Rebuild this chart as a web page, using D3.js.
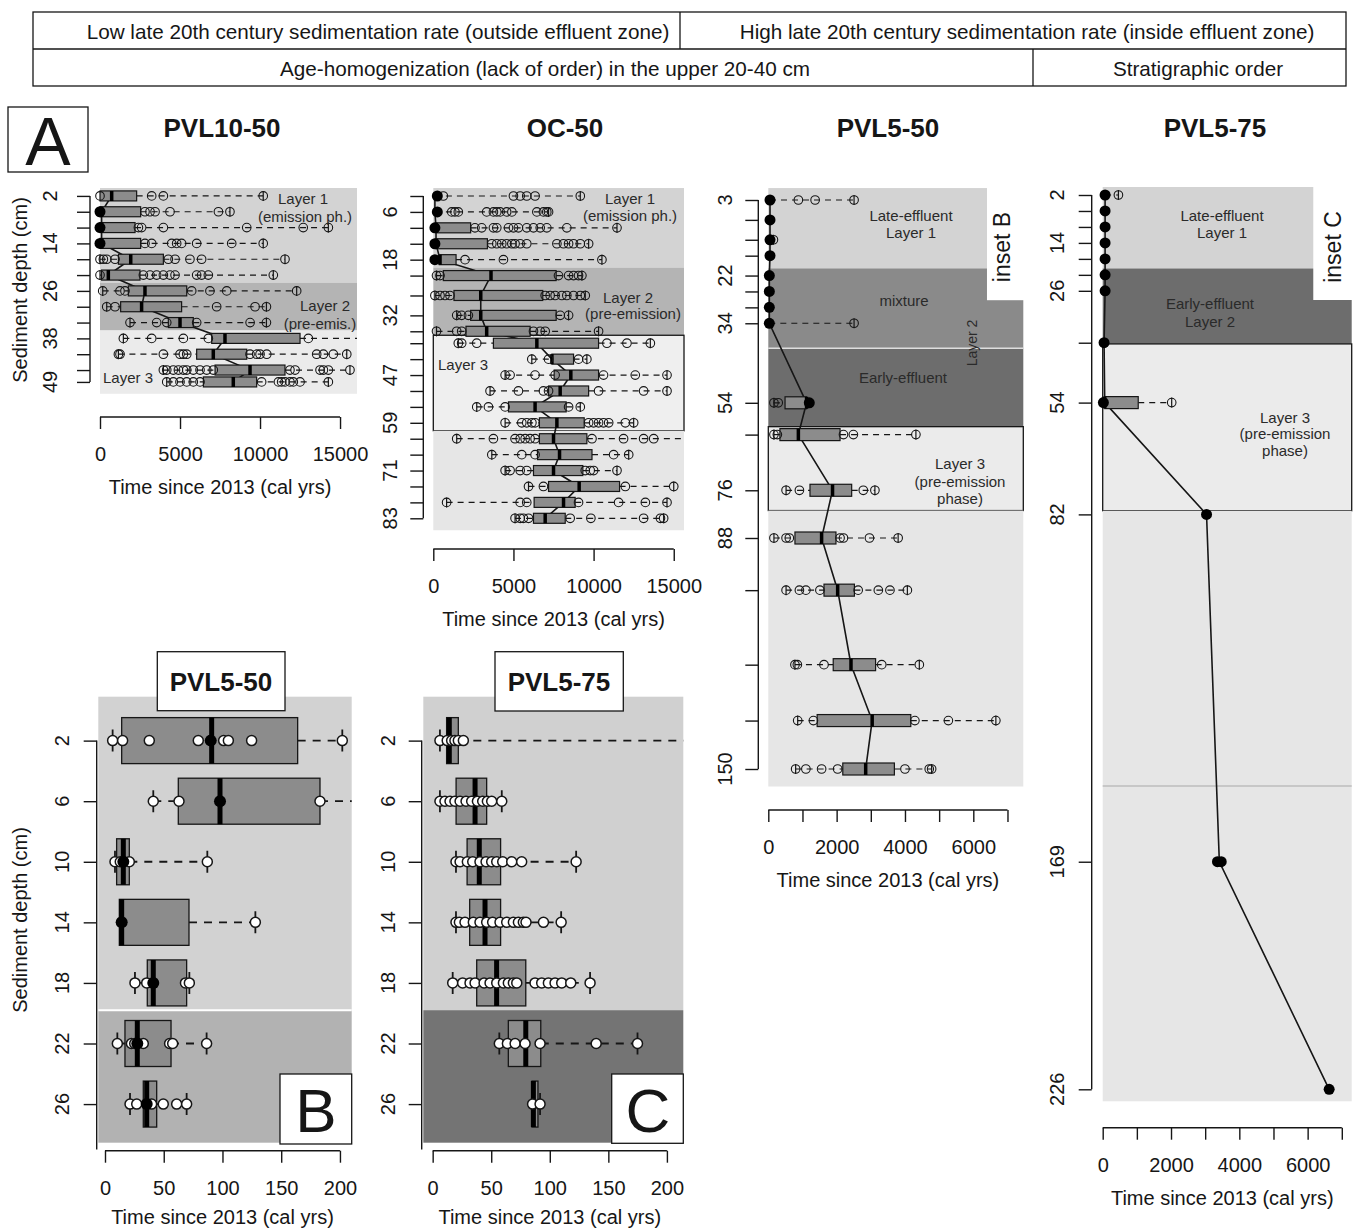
<!DOCTYPE html>
<html><head><meta charset="utf-8">
<script src="https://cdn.jsdelivr.net/npm/d3@7"></script>
<style>body{margin:0;background:#fff} svg{display:block}</style>
</head><body>
<script>
// ---------------- DATA ----------------
const headerRow1 = ["Low late 20th century sedimentation rate (outside effluent zone)", "High late 20th century sedimentation rate (inside effluent zone)"];
const headerRow2 = ["Age-homogenization (lack of order) in the upper 20-40 cm", "Stratigraphic order"];
const panelTitles = ["PVL10-50", "OC-50", "PVL5-50", "PVL5-75"];
const insetTitles = ["PVL5-50", "PVL5-75"];

const bigXTicks = [0, 5000, 10000, 15000];
const midXTicks = [0, 1000, 2000, 3000, 4000, 5000, 6000, 7000];
const midXLabels = [0, 2000, 4000, 6000];
const insetXTicks = [0, 50, 100, 150, 200];

// PVL10-50
const pvl10Depths = [2,6,10,14,18,22,26,30,34,38,42,46,49];
const pvl10YLabels = [2,14,26,38,49];
const pvl10Q1  = [0,0,0,0,1150,100,1770,1290,4270,6980,6040,7190,6460];
const pvl10Med = [730,100,100,100,1920,520,2810,2600,5000,7810,7080,9375,8330];
const pvl10Q3  = [2290,2540,2190,2540,3960,2500,5420,5100,5830,12500,9170,11560,9790];
const pvl10Points = [
 [0,3230,3960,10200],
 [2810,3125,3440,4375,7400,8120],
 [2400,2600,3960,9170,12700,14270],
 [2810,3230,4480,4790,5100,6040,8230,10200],
 [0,210,420,940,4270,4690,5620,6350,11560],
 [0,2710,3125,3540,3960,4375,4690,6040,6350,6770,10830],
 [170,1250,1560,5730,6870,7920,12290],
 [420,940,7290,9690,10400],
 [1875,3540,4170,6040,9380,10400],
 [1460,3230,5210,6770,13020,16600],
 [1150,1250,3960,5000,5210,5420,9375,9790,10000,10420,13540,13960,14580,15420],
 [3960,4170,4580,4900,5210,5420,5830,6250,6670,7080,11870,12190,13750,13960,14270,15620],
 [4170,4580,5000,5420,5830,6250,10100,11150,11350,11560,11870,12080,12500,14270]
];
const pvl10Solid = [[],[0],[0],[0],[],[],[],[],[],[],[],[],[]];
const pvl10LayerTops = [0,24,36];
const pvl10LayerBottoms = [24,36,52];

// OC-50
const ocDepths = [2,6,10,14,18,22,27,32,36,39,43,47,51,55,59,63,67,71,75,79,83];
const ocYLabels = [6,18,32,47,59,71,83];
const ocQ1  = [100,100,170,170,375,625,1290,2330,2040,3750,7400,7540,7190,4690,6620,6620,6500,6250,7190,6290,6250];
const ocMed = [100,100,170,170,420,3600,2960,2960,3330,6460,7400,8580,7915,6350,7710,7500,7875,7500,9100,8125,6980];
const ocQ3  = [100,100,2330,3375,1420,7665,6830,7665,6040,10310,8750,10310,9690,8290,9415,9580,9900,9330,11620,8850,8230];
const ocPoints = [
 [625,5000,5420,5830,6350,9170],
 [1150,1350,1560,3330,3750,3960,4170,4580,4900,6460,6870,7080,7190],
 [2600,3020,3750,3960,4690,5000,5310,5830,6250,6670,7080,8330,11460],
 [3650,3960,4270,4580,4900,5100,5420,5830,7710,8120,8440,8750,9170,9690],
 [1980,4375,10520],
 [200,420,7810,8440,8750,9060,9270],
 [100,420,730,1040,6980,7290,7600,8020,8330,8750,9170,9480],
 [1460,1770,2190,7920,8440],
 [200,1460,1770,6250,6670,6980,10310],
 [1560,1770,2710,10830,12080,13540],
 [6145,7190,9060,9580],
 [4480,4790,6350,7600,10620,12600,14580],
 [3540,5310,6870,7190,10310,13120,14580],
 [2710,3440,4480,8440,9170],
 [4480,5520,5830,6150,6350,9690,10000,10310,10620,10940,11980,12500],
 [1460,3750,5100,5420,5730,6040,6350,9900,11870,13120,13750,16000],
 [3650,5520,6350,11250,12190],
 [4480,4790,5420,5830,9480,9790,10000,11460],
 [5940,6870,11980,15000],
 [830,5420,5830,9060,11560,13230,14580],
 [5100,5420,5620,5940,8540,9830,13120,14170,14370]
];
const ocSolid = [[250],[250],[100],[100],[100],[],[],[],[],[],[],[],[],[],[],[],[],[],[],[],[]];
const ocLayerTops = [0,20,37,61];
const ocLayerBottoms = [20,37,61,86];

// PVL5-50
const pvl550Depths = [3,8,13,17,22,26,30,34,54,62,76,88,102,122,137,150];
const pvl550YLabels = [3,22,34,54,76,88,150];
const pvl550Q1  = [50,50,50,50,30,30,30,30,490,340,1220,780,1630,1900,1430,2180];
const pvl550Med = [50,50,50,50,30,30,30,30,1120,880,1880,1560,2030,2420,3040,2850];
const pvl550Q3  = [50,50,50,50,30,30,30,30,1120,2100,2440,1980,2520,3140,4170,3690];
const pvl550Points = [
 [880,1370,2510],[],[150],[],[],[],[],[2510],
 [165,290],
 [165,265,2200,2490,4320],
 [520,910,2780,3120],
 [165,520,615,2100,2200,2960,3800],
 [520,910,1100,1510,2630,3220,3560,4070],
 [780,850,1630,3320,4420],
 [860,1320,4290,5270,6660],
 [800,1100,1560,2030,4000,4710,4780]
];
const pvl550Solid = [[50],[50],[50],[50],[30],[30],[30],[30],[1200],[],[],[],[],[],[],[]];
const pvl550LayerTops = [0,20.2,40.3,60,81.1];
const pvl550LayerBottoms = [20.2,40.3,60,81.1,154.7];

// PVL5-75
const pvl575Depths = [2,6,10,14,18,22,26,39,54,82,169,226];
const pvl575YLabels = [2,14,26,54,82,169,226];
const pvl575Q1  = [70,70,70,70,70,70,70,40,60,3040,3415,6630];
const pvl575Med = [70,70,70,70,70,70,70,40,60,3040,3415,6630];
const pvl575Q3  = [70,70,70,70,70,70,70,40,1040,3040,3415,6630];
const pvl575Points = [[460],[],[],[],[],[],[],[],[2020],[],[],[]];
const pvl575Solid = [[70],[70],[70],[70],[70],[70],[70],[40],[20],[3040],[3360,3470],[6630]];
const pvl575LayerTops = [0,20.4,39.3,81.1];
const pvl575LayerBottoms = [20.4,39.3,81.1,229];

// Inset B (PVL5-50, upper 26 cm)
const insetDepths = [2,6,10,14,18,22,26];
const insetBQ1  = [14.2,62.4,9.9,12.2,36,17,32.6];
const insetBMed = [90.8,97.9,15.6,14.2,41.1,27.5,35.5];
const insetBQ3  = [164,183,20.7,71.5,69.5,56.2,44];
const insetBPoints = [
 [6.5,15,37.7,79.4,101,105,124.8,202],
 [41.1,63,183,215],
 [8.5,13,20.7,87.1],
 [128],
 [25.5,35.5,68.5,71.8],
 [10.5,22.5,25.3,32.6,55,57.6,86.5],
 [21.3,27,39.7,49.6,61,69.5]
];
const insetBSolid = [[90],[97.9],[15.6],[14.2],[41.1],[27.5],[35.5]];
const insetLayerTops = [-0.9,19.8];
const insetLayerBottoms = [19.8,28.55];

// Inset C (PVL5-75, upper 26 cm)
const insetCQ1  = [11.9,20,29.4,31.6,37.6,64.6,84.8];
const insetCMed = [14.2,36.2,39.8,44.7,54.6,79.5,86];
const insetCQ3  = [21.9,46.1,58,58,79.5,92.3,89.9];
const insetCPoints = [
 [6.2,12.4,16.2,19,21.9,26.2,230],
 [6.2,10.5,14.8,19,23.4,28.5,33.3,38.2,42.7,46.7,50.4,59],
 [19.9,23.4,29.6,34.2,40.4,45.6,50.4,54.7,59.8,67.5,76,122.5],
 [19.9,22.8,27.6,34.7,40.4,46.1,51.2,57.5,63.2,68.9,73.2,77.4,79.7,94.6,109.7],
 [17.1,25.6,31.9,36.2,43.9,49,54.7,60.4,64.6,68.9,71.8,87.4,93.1,98.8,104.5,110.2,117.9,134.4],
 [56.9,63.8,70.4,78.9,91.7,139.6,174.9],
 [85.3,91.7]
];
const insetCSolid = [[],[],[],[],[],[],[]];

// ---------------- DRAWING ----------------
const FONT = "'Liberation Sans', Arial, Helvetica, sans-serif";
const INK = '#161616';
const svg = d3.select('body').append('svg').attr('width',1358).attr('height',1230)
  .style('font-family', FONT);

function txt(g, x, y, s, size, opts={}) {
  const t = g.append('text').attr('x', x).attr('y', y).attr('font-size', size)
    .attr('text-anchor', opts.anchor || 'middle').attr('dominant-baseline','central')
    .attr('fill', opts.fill || INK).attr('font-weight', opts.bold ? 'bold' : 'normal')
    .attr('font-family', FONT).text(s);
  if (opts.rotate) t.attr('transform', `rotate(${opts.rotate},${x},${y})`);
  return t;
}

// header table
const hdr = svg.append('g');
hdr.append('rect').attr('x',33).attr('y',12).attr('width',1313).attr('height',74).attr('fill','none').attr('stroke',INK).attr('stroke-width',1.3);
hdr.append('line').attr('x1',33).attr('x2',1346).attr('y1',49).attr('y2',49).attr('stroke',INK).attr('stroke-width',1.3);
hdr.append('line').attr('x1',680).attr('x2',680).attr('y1',12).attr('y2',49).attr('stroke',INK).attr('stroke-width',1.3);
hdr.append('line').attr('x1',1033).attr('x2',1033).attr('y1',49).attr('y2',86).attr('stroke',INK).attr('stroke-width',1.3);
txt(hdr, 378, 31, headerRow1[0], 20.7);
txt(hdr, 1027, 31, headerRow1[1], 20.7);
txt(hdr, 545, 68, headerRow2[0], 20.7);
txt(hdr, 1198, 68, headerRow2[1], 20.7);

// letter A
svg.append('rect').attr('x',8).attr('y',107).attr('width',80).attr('height',65).attr('fill','#fff').attr('stroke',INK).attr('stroke-width',1.3);
txt(svg, 48, 141, 'A', 68);

// panel titles
[[222,128],[565,128],[888,128],[1215,128]].forEach((p,i)=> txt(svg, p[0], p[1], panelTitles[i], 26, {bold:true}));

let clipCount = 0;
function drawPanel(p) {
  const x = d3.scaleLinear().domain(p.xDomain).range(p.xRange);
  const y = d3.scaleLinear().domain(p.yDomain).range(p.yRange);
  const g = svg.append('g');
  const x0 = p.xRange[0], x1 = p.xRange[p.xRange.length-1];
  p.layerTops.forEach((t,i)=>{
    g.append('rect').attr('x',x0).attr('width',x1-x0)
      .attr('y',y(t)).attr('height',y(p.layerBottoms[i])-y(t))
      .attr('fill',p.layerFills[i]).attr('stroke',p.layerStrokes[i]).attr('stroke-width',1.3);
  });
  if (p.extra) p.extra(g, x, y);

  const id = 'clip' + (clipCount++);
  const yTop = y(p.layerTops[0]), yBot = y(p.layerBottoms[p.layerBottoms.length-1]);
  g.append('clipPath').attr('id', id).append('rect')
    .attr('x', x0-12).attr('y', yTop-8).attr('width', x1-x0+12).attr('height', yBot-yTop+16);
  const m = g.append('g').attr('clip-path', `url(#${id})`);

  if (p.connect) {
    m.append('path').datum(p.depths.map((d,i)=>[p.med[i], d]))
      .attr('d', d3.line().x(d=>x(d[0])).y(d=>y(d[1])))
      .attr('fill','none').attr('stroke',INK).attr('stroke-width',1.6);
  }
  p.depths.forEach((d,i)=>{
    const yc = y(d), q1 = p.q1[i], q3 = p.q3[i], md = p.med[i], pts = p.points[i];
    const lo = d3.min([q1, ...pts]), hi = d3.max([q3, ...pts]);
    const bh = p.boxH;
    const dash = (a,b)=> m.append('line').attr('x1',x(a)).attr('x2',x(b)).attr('y1',yc).attr('y2',yc)
        .attr('stroke',INK).attr('stroke-width',p.whiskW).attr('stroke-dasharray',p.dash);
    const staple = (v)=> m.append('line').attr('x1',x(v)).attr('x2',x(v)).attr('y1',yc-p.stapleH/2).attr('y2',yc+p.stapleH/2)
        .attr('stroke',INK).attr('stroke-width',p.whiskW);
    if (lo < q1) { dash(lo, q1); staple(lo); }
    if (hi > q3) { dash(q3, hi); staple(hi); }
    if (q3 > q1) {
      m.append('rect').attr('x',x(q1)).attr('width',x(q3)-x(q1)).attr('y',yc-bh/2).attr('height',bh)
        .attr('fill',p.boxFill).attr('stroke',INK).attr('stroke-width',p.boxStroke);
      m.append('line').attr('x1',x(md)).attr('x2',x(md)).attr('y1',yc-bh/2).attr('y2',yc+bh/2)
        .attr('stroke','#000').attr('stroke-width',p.medW);
    }
    pts.forEach(v=>{
      m.append('circle').attr('cx',x(v)).attr('cy',yc).attr('r',p.r)
        .attr('fill',p.ptFill).attr('stroke',INK).attr('stroke-width',p.ptStroke);
    });
    p.solid[i].forEach(v=>{
      m.append('circle').attr('cx',x(v)).attr('cy',yc).attr('r',p.solidR).attr('fill','#000');
    });
  });
  if (p.annot) p.annot(g, x, y);

  // x axis
  const xa = g.append('g').attr('transform',`translate(0,${p.xAxisY})`)
    .call(d3.axisBottom(x).tickValues(p.xTicks).tickSize(12).tickFormat(v=> p.xLabels.includes(v) ? v : ''));
  xa.select('.domain').remove();
  xa.append('line').attr('x1',x(p.xTicks[0])).attr('x2',x(p.xTicks[p.xTicks.length-1])).attr('y1',0).attr('y2',0);
  xa.selectAll('line').attr('stroke',INK).attr('stroke-width',1.4);
  xa.selectAll('text').attr('y',37).attr('dy','0.35em').attr('font-size',20).attr('font-family',FONT).attr('fill',INK);
  txt(g, (x(p.xTicks[0]) + x(p.xTicks[p.xTicks.length-1]))/2, p.xAxisY + p.titleOff, 'Time since 2013 (cal yrs)', 20);

  // y axis
  const ya = g.append('g').attr('transform',`translate(${p.yAxisX},0)`)
    .call(d3.axisLeft(y).tickValues(p.depths).tickSize(13).tickFormat(''));
  ya.select('.domain').remove();
  ya.append('line').attr('x1',0).attr('x2',0).attr('y1',y(p.depths[0])).attr('y2',y(p.yAxisEnd));
  ya.selectAll('line').attr('stroke',INK).attr('stroke-width',1.4);
  p.yLabels.forEach(v=> txt(g, p.yLabelX, y(v), v, 20, {rotate:-90}));
}

const mainStyle = {boxFill:'#8c8c8c', boxStroke:1.2, medW:3.5, stapleH:10, r:4.3, ptFill:'none', ptStroke:1.1,
  solidR:5.5, whiskW:1.2, dash:'6,5', connect:true, titleOff:70};

drawPanel(Object.assign({}, mainStyle, {
  xDomain:[0,16060], xRange:[100,357], yDomain:[0,52], yRange:[188,393.8],
  depths:pvl10Depths, q1:pvl10Q1, med:pvl10Med, q3:pvl10Q3, points:pvl10Points, solid:pvl10Solid,
  layerTops:pvl10LayerTops, layerBottoms:pvl10LayerBottoms,
  layerFills:['#d3d3d3','#b4b4b4','#ebebeb'], layerStrokes:['none','none','none'],
  yLabels:pvl10YLabels, yAxisX:90, yLabelX:50, yAxisEnd:49,
  xTicks:bigXTicks, xLabels:bigXTicks, xAxisY:417, boxH:10,
  annot:(g)=>{
    txt(g,303,198,'Layer 1',15,{fill:'#2a2a2a'}); txt(g,305,216,'(emission ph.)',15,{fill:'#2a2a2a'});
    txt(g,325,305,'Layer 2',15,{fill:'#2a2a2a'}); txt(g,320,323,'(pre-emis.)',15,{fill:'#2a2a2a'});
    txt(g,128,377,'Layer 3',15,{fill:'#2a2a2a'});
  }
}));

drawPanel(Object.assign({}, mainStyle, {
  xDomain:[0,15640], xRange:[433.3,684], yDomain:[2,83], yRange:[196,518.3],
  depths:ocDepths, q1:ocQ1, med:ocMed, q3:ocQ3, points:ocPoints, solid:ocSolid,
  layerTops:ocLayerTops, layerBottoms:ocLayerBottoms,
  layerFills:['#d3d3d3','#b4b4b4','#efefef','#e6e6e6'], layerStrokes:['none','none',INK,'none'],
  yLabels:ocYLabels, yAxisX:423.3, yLabelX:390, yAxisEnd:83,
  xTicks:bigXTicks, xLabels:bigXTicks, xAxisY:549, boxH:10,
  annot:(g)=>{
    txt(g,630,198,'Layer 1',15,{fill:'#2a2a2a'}); txt(g,630,215,'(emission ph.)',15,{fill:'#2a2a2a'});
    txt(g,628,297,'Layer 2',15,{fill:'#2a2a2a'}); txt(g,633,313,'(pre-emission)',15,{fill:'#2a2a2a'});
    txt(g,463,364,'Layer 3',15,{fill:'#2a2a2a'});
  }
}));

drawPanel(Object.assign({}, mainStyle, {
  xDomain:[0,7463], xRange:[768.3,1023.3], yDomain:[3,88,150], yRange:[200,538,769],
  depths:pvl550Depths, q1:pvl550Q1, med:pvl550Med, q3:pvl550Q3, points:pvl550Points, solid:pvl550Solid,
  layerTops:pvl550LayerTops, layerBottoms:pvl550LayerBottoms,
  layerFills:['#d3d3d3','#8a8a8a','#6d6d6d','#ebebeb','#e6e6e6'], layerStrokes:['none','none','none',INK,'none'],
  yLabels:pvl550YLabels, yAxisX:758.3, yLabelX:725, yAxisEnd:150,
  xTicks:midXTicks, xLabels:midXLabels, xAxisY:810, boxH:12,
  extra:(g,x,y)=>{
    g.append('line').attr('x1',x(0)).attr('x2',x(7463)).attr('y1',y(40.3)).attr('y2',y(40.3)).attr('stroke','#dedede').attr('stroke-width',1.5);
    g.append('rect').attr('x',x(6400)).attr('width',x(7463)-x(6400)+2).attr('y',y(0)-1).attr('height',y(28.2)-y(0)+1).attr('fill','#fff');
    txt(g,1002,247,'inset B',23,{rotate:-90});
  },
  annot:(g)=>{
    txt(g,911,215,'Late-effluent',15,{fill:'#2a2a2a'}); txt(g,911,232,'Layer 1',15,{fill:'#2a2a2a'});
    txt(g,904,300,'mixture',15,{fill:'#2a2a2a'});
    txt(g,972,343,'Layer 2',14,{fill:'#2a2a2a',rotate:-90});
    txt(g,903,377,'Early-effluent',15,{fill:'#2a2a2a'});
    txt(g,960,463,'Layer 3',15,{fill:'#2a2a2a'}); txt(g,960,481,'(pre-emission',15,{fill:'#2a2a2a'}); txt(g,960,498,'phase)',15,{fill:'#2a2a2a'});
  }
}));

drawPanel(Object.assign({}, mainStyle, {
  xDomain:[0,7290], xRange:[1102.7,1351.7], yDomain:[2,226], yRange:[195,1089.3],
  depths:pvl575Depths, q1:pvl575Q1, med:pvl575Med, q3:pvl575Q3, points:pvl575Points, solid:pvl575Solid,
  layerTops:pvl575LayerTops, layerBottoms:pvl575LayerBottoms,
  layerFills:['#d3d3d3','#6d6d6d','#ebebeb','#e6e6e6'], layerStrokes:['none','none',INK,'none'],
  yLabels:pvl575YLabels, yAxisX:1091.7, yLabelX:1057, yAxisEnd:226,
  xTicks:midXTicks, xLabels:midXLabels, xAxisY:1127.7, boxH:12,
  extra:(g,x,y)=>{
    g.append('line').attr('x1',x(0)).attr('x2',x(7290)).attr('y1',y(150)).attr('y2',y(150)).attr('stroke','#bdbdbd').attr('stroke-width',1.5);
    g.append('rect').attr('x',x(6165)).attr('width',x(7290)-x(6165)+2).attr('y',y(0)-1).attr('height',y(28.3)-y(0)+1).attr('fill','#fff');
    txt(g,1333,247,'inset C',23,{rotate:-90});
  },
  annot:(g)=>{
    txt(g,1222,215,'Late-effluent',15,{fill:'#2a2a2a'}); txt(g,1222,232,'Layer 1',15,{fill:'#2a2a2a'});
    txt(g,1210,303,'Early-effluent',15,{fill:'#2a2a2a'}); txt(g,1210,321,'Layer 2',15,{fill:'#2a2a2a'});
    txt(g,1285,417,'Layer 3',15,{fill:'#2a2a2a'}); txt(g,1285,433,'(pre-emission',15,{fill:'#2a2a2a'}); txt(g,1285,450,'phase)',15,{fill:'#2a2a2a'});
  }
}));

const insetStyle = {boxFill:'#8c8c8c', boxStroke:1.3, medW:5, stapleH:22, r:5, ptFill:'#fff', ptStroke:1.5,
  solidR:6, whiskW:1.8, dash:'8,7', connect:false, titleOff:66, boxH:46, yAxisEnd:29,
  yDomain:[-0.9,28.55], yRange:[696.7,1142.7], depths:insetDepths, yLabels:insetDepths,
  layerTops:insetLayerTops, layerBottoms:insetLayerBottoms, xTicks:insetXTicks, xLabels:insetXTicks, xAxisY:1150.7};

drawPanel(Object.assign({}, insetStyle, {
  xDomain:[-5.7,210], xRange:[98.3,351.7],
  q1:insetBQ1, med:insetBMed, q3:insetBQ3, points:insetBPoints, solid:insetBSolid,
  layerFills:['#d2d2d2','#b2b2b2'], layerStrokes:['none','none'],
  yAxisX:96.7, yLabelX:62,
  extra:(g,x,y)=>{
    g.append('line').attr('x1',x(-5.7)).attr('x2',x(210)).attr('y1',y(19.8)).attr('y2',y(19.8)).attr('stroke','#fff').attr('stroke-width',2);
  },
  annot:(g)=>{
    g.append('rect').attr('x',157.3).attr('y',651.7).attr('width',127.7).attr('height',59).attr('fill','#fff').attr('stroke',INK).attr('stroke-width',1.3);
    txt(g,221,682,insetTitles[0],26,{bold:true});
    g.append('rect').attr('x',280).attr('y',1074).attr('width',71.7).attr('height',70).attr('fill','#fff').attr('stroke',INK).attr('stroke-width',1.3);
    txt(g,316,1110,'B',62);
  }
}));

drawPanel(Object.assign({}, insetStyle, {
  xDomain:[-8,214], xRange:[423.3,683.3],
  q1:insetCQ1, med:insetCMed, q3:insetCQ3, points:insetCPoints, solid:insetCSolid,
  layerFills:['#d0d0d0','#747474'], layerStrokes:['none','none'],
  yAxisX:421.7, yLabelX:388,
  annot:(g)=>{
    g.append('rect').attr('x',495).attr('y',651.7).attr('width',128.3).attr('height',59.3).attr('fill','#fff').attr('stroke',INK).attr('stroke-width',1.3);
    txt(g,559,682,insetTitles[1],26,{bold:true});
    g.append('rect').attr('x',611.7).attr('y',1074).attr('width',71.6).attr('height',69.3).attr('fill','#fff').attr('stroke',INK).attr('stroke-width',1.3);
    txt(g,648,1110,'C',62);
  }
}));

// y-axis titles
txt(svg, 20, 290, 'Sediment depth (cm)', 20, {rotate:-90});
txt(svg, 20, 920, 'Sediment depth (cm)', 20, {rotate:-90});
</script></body></html>
